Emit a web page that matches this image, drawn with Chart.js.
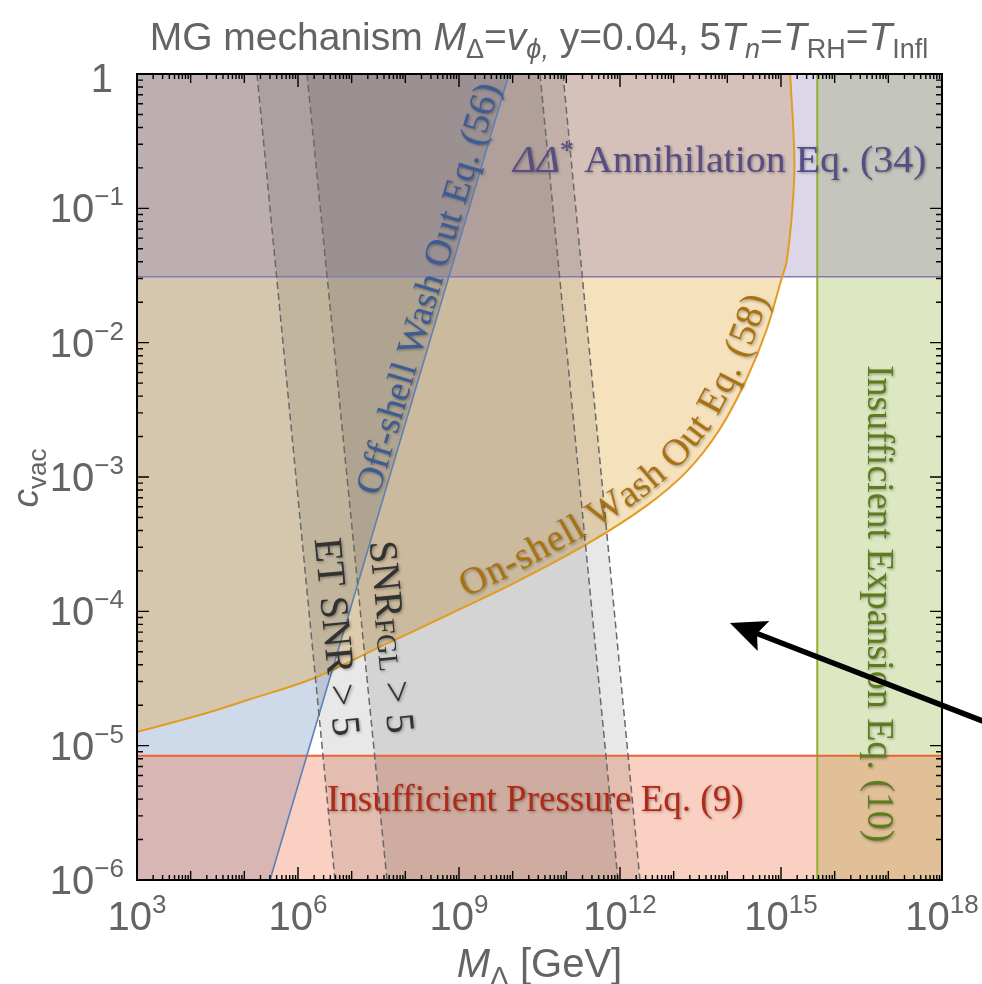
<!DOCTYPE html>
<html>
<head>
<meta charset="utf-8">
<script src="https://cdn.jsdelivr.net/npm/chart.js@4.4.1/dist/chart.umd.min.js"></script>
<style>
html,body{margin:0;padding:0;background:#ffffff;overflow:hidden;}
canvas{display:block;}
</style>
</head>
<body>
<canvas id="chart" width="982" height="984"></canvas>
<script>
// ---------------- data (log10 values) ----------------
const xLimits = [1e3, 1e18];          // M_Delta [GeV]
const yLimits = [1e-6, 1];            // c_vac
const xTickExps = [3, 6, 9, 12, 15, 18];
const yTickExps = [-6, -5, -4, -3, -2, -1, 0];

const annihilationLogC = -1.509;      // Delta Delta* annihilation, Eq. (34)
const pressureLogC     = -5.075;      // insufficient pressure, Eq. (9)
const expansionLogM    = 15.676;      // insufficient expansion, Eq. (10)

// off-shell wash out, Eq. (56): straight line in log-log
const offShellLogM = [5.478, 9.931];
const offShellLogC = [-6, 0];

// GW sensitivity bands (dashed edges), logM at c = 1 and c = 1e-6
const bandLogC     = [0, -6];
const etLeftLogM   = [5.236, 6.689];
const fglLeftLogM  = [6.168, 7.658];
const fglRightLogM = [10.509, 11.962];
const etRightLogM  = [10.937, 12.372];

// on-shell wash out, Eq. (58)
const onShellLogM = [3.00, 4.17, 5.10, 6.28, 7.50, 8.83, 10.10, 11.38, 12.49, 13.24, 13.85, 14.35, 14.73, 15.02, 15.10, 15.21, 15.25, 15.17];
const onShellLogC = [-4.898, -4.772, -4.655, -4.50, -4.27, -4.02, -3.775, -3.50, -3.215, -2.960, -2.650, -2.278, -1.906, -1.511, -1.407, -1.012, -0.640, 0.0];
// closure of the on-shell region outside the plotting window (top-left)
const onShellCloseLogM = [15.10, 2.0, 2.0];
const onShellCloseLogC = [0.6, 0.6, -5.0];

// annotation arrow (tip, tail)
const arrowLogM = [14.049, 19.0];
const arrowLogC = [-4.087, -4.854];

// ---------------- helpers ----------------
const P = v => Math.pow(10, v);
const pt = (lm, lc) => ({x: P(lm), y: P(lc)});
const series = (ms, cs) => ms.map((m, i) => pt(m, cs[i]));

const xMin = xLimits[0], xMax = xLimits[1], yMin = yLimits[0], yMax = yLimits[1];
const cAnn = P(annihilationLogC), cPr = P(pressureLogC), mEx = P(expansionLogM);

const COL = {
  blue: [94,129,181], orange: [225,156,36], green: [143,176,50],
  red: [235,98,53], purple: [135,120,179]
};
const rgba = (c, a) => `rgba(${c[0]},${c[1]},${c[2]},${a})`;

function fillSet(data, color, order, extra) {
  return Object.assign({data, fill: 'shape', backgroundColor: color, borderWidth: 0,
    borderColor: 'rgba(0,0,0,0)', pointRadius: 0, tension: 0, order}, extra || {});
}
function lineSet(data, color, width, order, extra) {
  return Object.assign({data, fill: false, borderColor: color, borderWidth: width,
    pointRadius: 0, tension: 0, order}, extra || {});
}

const onShellPts = series(onShellLogM, onShellLogC);
const offShellPts = series(offShellLogM, offShellLogC);
const curveOpts = {tension: 0.35, capBezierPoints: false};

const datasets = [
  // fills
  fillSet([pt(etLeftLogM[0], bandLogC[0]), pt(etRightLogM[0], bandLogC[0]), pt(etRightLogM[1], bandLogC[1]), pt(etLeftLogM[1], bandLogC[1])], 'rgba(0,0,0,0.09)', 4),
  fillSet([pt(fglLeftLogM[0], bandLogC[0]), pt(fglRightLogM[0], bandLogC[0]), pt(fglRightLogM[1], bandLogC[1]), pt(fglLeftLogM[1], bandLogC[1])], 'rgba(0,0,0,0.09)', 3),
  fillSet([{x:xMin,y:yMin},{x:xMax,y:yMin},{x:xMax,y:cPr},{x:xMin,y:cPr}], rgba(COL.red, 0.3), 5),
  fillSet([{x:xMin,y:cAnn},{x:xMax,y:cAnn},{x:xMax,y:yMax},{x:xMin,y:yMax}], rgba(COL.purple, 0.3), 6),
  fillSet(onShellPts.concat(series(onShellCloseLogM, onShellCloseLogC)), rgba(COL.orange, 0.3), 7, curveOpts),
  fillSet([{x:xMin,y:yMin}, offShellPts[0], offShellPts[1], {x:xMin,y:yMax}], rgba(COL.blue, 0.3), 8),
  fillSet([{x:mEx,y:yMin},{x:xMax,y:yMin},{x:xMax,y:yMax},{x:mEx,y:yMax}], rgba(COL.green, 0.3), 9),
  // boundary lines
  lineSet(offShellPts, rgba(COL.blue, 1), 1.6, 2),
  lineSet(onShellPts, rgba(COL.orange, 1), 2, 2, curveOpts),
  lineSet([{x:xMin,y:cAnn},{x:xMax,y:cAnn}], rgba(COL.purple, 1), 1.6, 2),
  lineSet([{x:xMin,y:cPr},{x:xMax,y:cPr}], rgba(COL.red, 1), 2, 2),
  lineSet([{x:mEx,y:yMin},{x:mEx,y:yMax}], rgba(COL.green, 1), 2, 2),
  // dashed band edges
  lineSet(series(etLeftLogM, bandLogC), 'rgb(105,105,105)', 1.5, 1, {borderDash: [7, 4]}),
  lineSet(series(fglLeftLogM, bandLogC), 'rgb(105,105,105)', 1.5, 1, {borderDash: [7, 4]}),
  lineSet(series(fglRightLogM, bandLogC), 'rgb(105,105,105)', 1.5, 1, {borderDash: [7, 4]}),
  lineSet(series(etRightLogM, bandLogC), 'rgb(105,105,105)', 1.5, 1, {borderDash: [7, 4]})
];
const IDX_OFFSHELL = 7, IDX_ONSHELL = 8, IDX_ETL = 12, IDX_FGLL = 13;

// ---------------- text helpers ----------------
const SANS = '"Liberation Sans", Arial, Helvetica, sans-serif';
const SERIF = '"Liberation Serif", "Times New Roman", Times, serif';

function drawRich(ctx, segs, x, y, align, sx) {
  sx = sx || 1;
  let w = 0;
  for (const s of segs) { ctx.font = s.f; s.w = ctx.measureText(s.t).width; w += s.w; }
  ctx.save();
  ctx.translate(x, y);
  ctx.scale(sx, 1);
  let cx = align === 'center' ? -w / 2 : (align === 'right' ? -w : 0);
  ctx.textAlign = 'left';
  ctx.textBaseline = 'alphabetic';
  for (const s of segs) { ctx.font = s.f; ctx.fillText(s.t, cx, (s.dy || 0)); cx += s.w; }
  ctx.restore();
  return w * sx;
}
function shadowOn(ctx) {
  ctx.shadowColor = 'rgba(0,0,0,0.35)'; ctx.shadowBlur = 3;
  ctx.shadowOffsetX = 1.2; ctx.shadowOffsetY = 1.2;
}
function shadowOff(ctx) {
  ctx.shadowColor = 'rgba(0,0,0,0)'; ctx.shadowBlur = 0; ctx.shadowOffsetX = 0; ctx.shadowOffsetY = 0;
}
function interpX(p0, p1, yy) { const t = (yy - p0.y) / (p1.y - p0.y); return p0.x + t * (p1.x - p0.x); }

function textOnPath(ctx, text, pts, startX, offset, font, spacing) {
  const cum = [0];
  for (let i = 1; i < pts.length; i++) cum.push(cum[i - 1] + Math.hypot(pts[i].x - pts[i - 1].x, pts[i].y - pts[i - 1].y));
  const at = s => {
    s = Math.max(0, Math.min(cum[cum.length - 1], s));
    let i = 1; while (i < cum.length - 1 && cum[i] < s) i++;
    const t = (s - cum[i - 1]) / ((cum[i] - cum[i - 1]) || 1);
    return {x: pts[i - 1].x + t * (pts[i].x - pts[i - 1].x), y: pts[i - 1].y + t * (pts[i].y - pts[i - 1].y)};
  };
  let s0 = 0;
  for (let i = 1; i < pts.length; i++) {
    if (pts[i].x >= startX) { const t = (startX - pts[i - 1].x) / (pts[i].x - pts[i - 1].x); s0 = cum[i - 1] + t * (cum[i] - cum[i - 1]); break; }
  }
  ctx.font = font; ctx.textAlign = 'left'; ctx.textBaseline = 'alphabetic';
  let s = s0;
  for (const ch of text) {
    const w = ctx.measureText(ch).width;
    const mid = s + w / 2;
    const p = at(mid), a1 = at(mid - 16), a2 = at(mid + 16);
    const ang = Math.atan2(a2.y - a1.y, a2.x - a1.x);
    ctx.save(); ctx.translate(p.x, p.y); ctx.rotate(ang);
    ctx.fillText(ch, -w / 2, -offset);
    ctx.restore();
    s += w + spacing;
  }
}

// ---------------- decoration plugin ----------------
const decor = {
  id: 'decor',
  afterDatasetsDraw(chart) {
    const {ctx, chartArea: a, scales} = chart;
    const X = v => scales.x.getPixelForValue(v), Y = v => scales.y.getPixelForValue(v);
    ctx.save();
    ctx.beginPath(); ctx.rect(a.left, a.top, a.right - a.left, a.bottom - a.top); ctx.clip();
    shadowOn(ctx);

    // Annihilation label
    ctx.fillStyle = 'rgb(88,78,132)';
    drawRich(ctx, [
      {t: 'ΔΔ', f: `italic 38px ${SERIF}`},
      {t: '*', f: `27px ${SERIF}`, dy: -13},
      {t: ' Annihilation Eq. (34)', f: `38px ${SERIF}`}
    ], X(P(10.006)), Y(P(-0.7296)), 'left', 1.05);

    // Pressure label
    ctx.fillStyle = 'rgb(178,42,22)';
    drawRich(ctx, [{t: 'Insufficient Pressure Eq. (9)', f: `37px ${SERIF}`}], X(P(6.54)), Y(P(-5.487)), 'left');

    // Expansion label (vertical)
    ctx.save();
    ctx.translate(X(P(16.62)), Y(P(-2.166)));
    ctx.rotate(Math.PI / 2);
    ctx.fillStyle = 'rgb(92,124,30)';
    drawRich(ctx, [{t: 'Insufficient Expansion Eq. (10)', f: `37px ${SERIF}`}], 0, 0, 'left', 1.025);
    ctx.restore();

    // Off-shell label along the blue line
    const ob = chart.getDatasetMeta(IDX_OFFSHELL).data;
    const p0 = {x: ob[0].x, y: ob[0].y}, p1 = {x: ob[1].x, y: ob[1].y};
    const tt = 0.728;
    ctx.save();
    ctx.translate(p0.x + tt * (p1.x - p0.x), p0.y + tt * (p1.y - p0.y));
    ctx.rotate(Math.atan2(p1.y - p0.y, p1.x - p0.x));
    ctx.fillStyle = 'rgb(60,92,150)';
    drawRich(ctx, [{t: 'Off-shell Wash Out Eq. (56)', f: `37px ${SERIF}`}], 0, -5, 'center', 1.02);
    ctx.restore();

    // On-shell label along the orange curve
    const oc = chart.getDatasetMeta(IDX_ONSHELL).data.map(e => ({x: e.x, y: e.y}));
    ctx.fillStyle = 'rgb(170,114,14)';
    textOnPath(ctx, 'On-shell Wash Out Eq. (58)', oc, X(P(9.2)), 8, `38px ${SERIF}`, 0.9);

    // SNR labels along the dashed lines
    const e1 = chart.getDatasetMeta(IDX_ETL).data, f1 = chart.getDatasetMeta(IDX_FGLL).data;
    const et0 = {x: e1[0].x, y: e1[0].y}, et1 = {x: e1[1].x, y: e1[1].y};
    const fg0 = {x: f1[0].x, y: f1[0].y}, fg1 = {x: f1[1].x, y: f1[1].y};
    const ang = Math.atan2(et1.y - et0.y, et1.x - et0.x);
    const yc = Y(P(-4.19));
    ctx.fillStyle = 'rgb(50,50,50)';
    ctx.save();
    ctx.translate((interpX(et0, et1, yc) + interpX(fg0, fg1, yc)) / 2, yc);
    ctx.rotate(ang);
    drawRich(ctx, [{t: 'ET SNR > 5', f: `40px ${SERIF}`}], 0, 13, 'center');
    ctx.restore();
    ctx.save();
    ctx.translate(interpX(fg0, fg1, yc) + 29, yc);
    ctx.rotate(ang);
    drawRich(ctx, [
      {t: 'SNR', f: `40px ${SERIF}`},
      {t: 'FGL', f: `28px ${SERIF}`, dy: 2},
      {t: ' > 5', f: `40px ${SERIF}`}
    ], 0, 13, 'center');
    ctx.restore();

    ctx.restore();
  },
  afterDraw(chart) {
    const {ctx, chartArea: a, scales} = chart;
    const X = v => scales.x.getPixelForValue(v), Y = v => scales.y.getPixelForValue(v);
    ctx.save();
    shadowOff(ctx);

    // frame
    ctx.strokeStyle = '#000'; ctx.lineWidth = 2;
    ctx.strokeRect(a.left, a.top, a.right - a.left, a.bottom - a.top);

    // ticks (inward, all four sides)
    ctx.lineWidth = 1.4;
    ctx.beginPath();
    const minor = [2, 3, 4, 5, 6, 7, 8, 9];
    const lx = Math.log10(xMin), hx = Math.log10(xMax);
    for (let e = lx; e <= hx; e++) {
      const v = P(e), px = X(v), len = xTickExps.includes(e) ? 13 : 9;
      ctx.moveTo(px, a.bottom); ctx.lineTo(px, a.bottom - len);
      ctx.moveTo(px, a.top); ctx.lineTo(px, a.top + len);
      if (e < hx) for (const m of minor) {
        const q = X(m * v);
        ctx.moveTo(q, a.bottom); ctx.lineTo(q, a.bottom - 5);
        ctx.moveTo(q, a.top); ctx.lineTo(q, a.top + 5);
      }
    }
    const ly = Math.log10(yMin), hy = Math.log10(yMax);
    for (let e = ly; e <= hy; e++) {
      const v = P(e), py = Y(v);
      ctx.moveTo(a.left, py); ctx.lineTo(a.left + 12, py);
      ctx.moveTo(a.right, py); ctx.lineTo(a.right - 12, py);
      if (e < hy) for (const m of minor) {
        const q = Y(m * v);
        ctx.moveTo(a.left, q); ctx.lineTo(a.left + 6, q);
        ctx.moveTo(a.right, q); ctx.lineTo(a.right - 6, q);
      }
    }
    ctx.stroke();

    // tick labels
    ctx.fillStyle = 'rgb(100,100,100)';
    const big = `40px ${SANS}`, sup = `26px ${SANS}`;
    for (const e of xTickExps) {
      drawRich(ctx, [{t: '10', f: big}, {t: String(e), f: sup, dy: -17}], X(P(e)), a.bottom + 50, 'center');
    }
    for (const e of yTickExps) {
      const py = Y(P(e)) + 14;
      if (e === 0) drawRich(ctx, [{t: '1', f: big}], a.left - 24, py + 4, 'right');
      else drawRich(ctx, [{t: '10', f: big}, {t: '\u2212' + Math.abs(e), f: sup, dy: -17}], a.left - 13, py, 'right');
    }

    // title
    const T = `39px ${SANS}`, Ti = `italic 39px ${SANS}`, Ts = `27px ${SANS}`, Tsi = `italic 27px ${SANS}`;
    drawRich(ctx, [
      {t: 'MG mechanism ', f: T}, {t: 'M', f: Ti}, {t: 'Δ', f: Ts, dy: 8}, {t: '=', f: T},
      {t: 'v', f: Ti}, {t: 'ϕ,', f: Tsi, dy: 8}, {t: ' y=0.04, 5', f: T},
      {t: 'T', f: Ti}, {t: 'n', f: Tsi, dy: 8}, {t: '=', f: T},
      {t: 'T', f: Ti}, {t: 'RH', f: Ts, dy: 8}, {t: '=', f: T},
      {t: 'T', f: Ti}, {t: 'Infl', f: Ts, dy: 8}
    ], 539, 50, 'center');

    // axis titles
    drawRich(ctx, [{t: 'M', f: `italic 40px ${SANS}`}, {t: 'Δ', f: `28px ${SANS}`, dy: 9}, {t: ' [GeV]', f: `40px ${SANS}`}], (a.left + a.right) / 2, 977, 'center');
    ctx.save();
    ctx.translate(38, 478);
    ctx.rotate(-Math.PI / 2);
    drawRich(ctx, [{t: 'c', f: `italic 37px ${SANS}`}, {t: 'vac', f: `26px ${SANS}`, dy: 8}], 0, 0, 'center');
    ctx.restore();

    // arrow
    const tip = {x: X(P(arrowLogM[0])), y: Y(P(arrowLogC[0]))};
    const tail = {x: X(P(arrowLogM[1])), y: Y(P(arrowLogC[1]))};
    const dx = tip.x - tail.x, dy = tip.y - tail.y, dl = Math.hypot(dx, dy);
    const u = {x: dx / dl, y: dy / dl}, n = {x: -u.y, y: u.x};
    const hl = 36, hw = 16;
    const base = {x: tip.x - u.x * hl, y: tip.y - u.y * hl};
    const notch = {x: tip.x - u.x * (hl - 7), y: tip.y - u.y * (hl - 7)};
    ctx.strokeStyle = '#000'; ctx.fillStyle = '#000'; ctx.lineWidth = 5.5; ctx.lineCap = 'butt';
    ctx.beginPath(); ctx.moveTo(tail.x, tail.y); ctx.lineTo(notch.x, notch.y); ctx.stroke();
    ctx.beginPath();
    ctx.moveTo(tip.x, tip.y);
    ctx.lineTo(base.x + n.x * hw, base.y + n.y * hw);
    ctx.lineTo(notch.x, notch.y);
    ctx.lineTo(base.x - n.x * hw, base.y - n.y * hw);
    ctx.closePath(); ctx.fill();

    ctx.restore();
  }
};

new Chart(document.getElementById('chart'), {
  type: 'line',
  data: {datasets},
  options: {
    responsive: false,
    animation: false,
    devicePixelRatio: 1,
    layout: {padding: {left: 137, right: 40, top: 74, bottom: 104}},
    plugins: {legend: {display: false}, tooltip: {enabled: false}, title: {display: false}},
    scales: {
      x: {type: 'logarithmic', min: xMin, max: xMax, display: false},
      y: {type: 'logarithmic', min: yMin, max: yMax, display: false}
    },
    elements: {point: {radius: 0}}
  },
  plugins: [decor]
});
</script>
</body>
</html>
